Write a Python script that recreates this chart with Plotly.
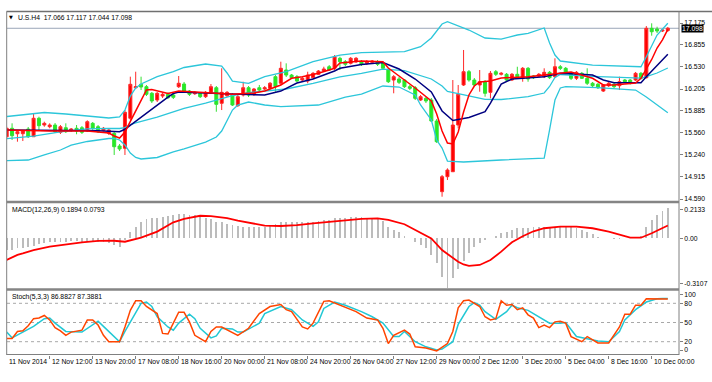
import plotly.graph_objects as go

W, H = 712, 382

# ---------------- data ----------------
bars = list(range(124))

open_ = [15.505,15.629,15.549,15.549,15.618,15.505,15.776,15.677,15.652,15.677,
15.570,15.637,15.599,15.629,15.637,15.589,15.702,15.652,15.599,15.555,
15.555,15.369,15.335,15.776,16.225,16.275,16.240,16.143,16.044,16.103,
16.128,16.118,16.240,16.279,16.176,16.137,16.143,16.093,16.157,16.225,
15.996,16.107,16.118,15.961,16.118,16.225,16.128,16.225,16.206,16.216,
16.387,16.290,16.485,16.411,16.387,16.338,16.323,16.372,16.422,16.470,
16.533,16.510,16.657,16.607,16.583,16.607,16.607,16.583,16.598,16.607,
16.583,16.485,16.338,16.353,16.338,16.240,16.225,16.044,16.069,16.044,
15.736,14.698,14.918,14.991,15.677,16.265,16.460,16.338,16.265,16.313,
16.157,16.460,16.422,16.422,16.338,16.422,16.363,16.510,16.397,16.397,
16.387,16.451,16.387,16.533,16.510,16.436,16.363,16.436,16.363,16.290,
16.275,16.176,16.254,16.275,16.254,16.338,16.338,16.338,16.436,16.372,
17.097,17.087,17.058,17.066]

high = [15.652,15.702,15.604,15.604,15.648,15.849,15.799,15.726,15.702,15.706,
15.677,15.702,15.633,15.677,15.662,15.746,15.721,15.677,15.648,15.626,
15.579,15.398,15.897,16.387,16.460,16.387,16.265,16.162,16.162,16.147,
16.154,16.147,16.397,16.309,16.191,16.176,16.162,16.176,16.279,16.250,
16.510,16.176,16.147,16.118,16.313,16.250,16.221,16.265,16.250,16.309,
16.411,16.607,16.583,16.426,16.411,16.382,16.460,16.456,16.485,16.533,
16.558,16.705,16.680,16.632,16.676,16.676,16.632,16.632,16.632,16.632,
16.602,16.514,16.411,16.382,16.353,16.265,16.250,16.118,16.088,16.074,
15.765,14.943,15.041,16.338,16.265,16.779,16.485,16.367,16.485,16.338,
16.470,16.485,16.456,16.441,16.441,16.533,16.529,16.529,16.411,16.441,
16.510,16.470,16.657,16.558,16.529,16.456,16.470,16.456,16.510,16.309,
16.294,16.279,16.309,16.294,16.387,16.353,16.353,16.456,16.456,17.131,
17.171,17.121,17.087,17.117]

low = [15.482,15.457,15.432,15.442,15.486,15.501,15.604,15.652,15.629,15.560,
15.545,15.560,15.574,15.541,15.545,15.574,15.604,15.560,15.582,15.530,
15.237,15.295,15.237,15.751,16.206,16.191,16.103,16.000,16.015,16.074,
16.059,16.059,16.221,16.162,16.103,16.118,16.074,16.074,16.132,15.872,
15.897,16.088,15.956,15.942,16.096,16.088,16.103,16.176,16.191,16.199,
16.166,16.265,16.382,16.353,16.309,16.323,16.290,16.353,16.411,16.456,
16.470,16.485,16.485,16.544,16.566,16.588,16.544,16.558,16.573,16.544,
16.485,16.294,16.143,16.279,16.221,16.191,16.044,16.030,16.000,15.721,
15.413,14.624,14.869,14.987,15.629,16.250,16.313,16.250,16.166,16.093,
16.069,16.397,16.404,16.313,16.323,16.363,16.313,16.313,16.353,16.382,
16.367,16.353,16.367,16.485,16.411,16.338,16.338,16.353,16.265,16.235,
16.206,16.162,16.235,16.221,16.191,16.294,16.272,16.323,16.345,16.360,
16.989,17.028,17.043,17.044]

close = [15.629,15.520,15.579,15.589,15.505,15.776,15.667,15.702,15.677,15.579,
15.652,15.579,15.618,15.589,15.570,15.726,15.629,15.579,15.629,15.604,
15.358,15.325,15.864,16.275,16.240,16.235,16.128,16.030,16.143,16.128,
16.078,16.084,16.290,16.176,16.128,16.157,16.093,16.157,16.240,15.981,
16.157,16.157,15.971,16.093,16.225,16.118,16.206,16.191,16.225,16.290,
16.240,16.510,16.411,16.372,16.323,16.363,16.411,16.436,16.470,16.500,
16.485,16.680,16.607,16.569,16.657,16.657,16.569,16.607,16.617,16.569,
16.510,16.313,16.387,16.304,16.240,16.216,16.069,16.093,16.030,15.736,
15.432,14.918,15.016,15.677,16.128,16.460,16.338,16.265,16.313,16.143,
16.436,16.422,16.436,16.338,16.422,16.387,16.510,16.353,16.372,16.422,
16.451,16.372,16.533,16.510,16.436,16.363,16.451,16.363,16.290,16.254,
16.225,16.265,16.290,16.240,16.313,16.313,16.290,16.436,16.363,17.097,
17.047,17.058,17.072,17.098]

# Bollinger bands (sampled at bars)
bb_up_bars = [0,5,7,11,15,19,21,22,23,24,25,28,31,33,37,40,41,42,45,48,52,57,62,66,74,77,79,81,82,84,86,89,92,95,97,100,101,102,103,109,118,119,121,123]
bb_up = [15.802,15.839,15.861,15.839,15.809,15.780,15.795,15.897,16.103,16.221,16.279,16.387,16.460,16.522,16.573,16.544,16.441,16.323,16.290,16.389,16.460,16.607,16.705,16.739,16.754,16.827,16.955,17.161,17.194,17.138,17.072,16.955,16.940,16.999,17.024,17.102,16.881,16.705,16.617,16.558,16.533,16.680,16.999,17.171]

bb_mid_bars = [0,5,10,15,19,21,22,23,24,25,28,31,33,37,40,41,42,45,48,52,57,62,66,70,74,77,79,81,82,84,86,89,92,95,97,100,101,102,103,109,118,119,121,123]
bb_mid = [15.477,15.513,15.577,15.621,15.629,15.626,15.640,15.684,15.709,15.729,15.793,15.870,15.922,16.000,16.066,16.088,16.110,16.151,16.179,16.206,16.288,16.385,16.435,16.498,16.475,16.398,16.353,16.250,16.171,16.138,16.105,16.053,16.052,16.081,16.093,16.147,16.243,16.375,16.419,16.392,16.367,16.389,16.441,16.514]

bb_lo_bars = [0,4,7,10,12,15,19,20,21,22,23,24,25,28,31,33,37,39,40,41,42,43,45,48,51,58,63,66,70,73,76,77,79,80,81,82,85,92,100,101,102,103,104,110,117,119,123]
bb_lo = [15.153,15.163,15.237,15.310,15.383,15.435,15.479,15.482,15.457,15.383,15.266,15.200,15.178,15.200,15.281,15.325,15.427,15.501,15.589,15.736,15.897,15.971,16.015,15.971,15.946,15.971,16.088,16.132,16.250,16.235,16.118,15.971,15.751,15.457,15.339,15.148,15.134,15.163,15.192,15.604,16.044,16.221,16.240,16.225,16.191,16.088,15.858]

# fast moving average (red)
ma_fast_bars = [0,8,15,19,20,21,22,26,27,30,32,36,39,42,46,48,51,53,55,58,61,62,66,70,71,74,76,79,80,81,82,83,84,85,86,87,88,90,92,97,103,105,109,111,113,117,118,119,120,121,122,123]
ma_fast = [15.604,15.589,15.589,15.560,15.516,15.486,15.575,16.191,16.199,16.140,16.176,16.162,16.143,16.128,16.147,16.176,16.265,16.363,16.387,16.436,16.510,16.588,16.617,16.607,16.514,16.338,16.221,16.030,15.839,15.589,15.413,15.398,15.574,15.868,16.118,16.250,16.309,16.323,16.367,16.387,16.445,16.456,16.363,16.265,16.265,16.294,16.363,16.504,16.640,16.808,16.928,17.083]

# slow moving average (navy)
ma_slow_bars = [0,5,11,17,21,22,30,31,32,36,42,48,51,54,57,61,62,66,70,73,76,79,81,83,86,89,90,92,94,100,103,106,109,111,113,118,119,123]
ma_slow = [15.604,15.604,15.593,15.593,15.579,15.614,16.088,16.140,16.162,16.154,16.132,16.118,16.176,16.294,16.353,16.470,16.510,16.566,16.595,16.500,16.353,16.162,15.883,15.743,15.787,15.872,16.000,16.279,16.353,16.387,16.436,16.426,16.411,16.338,16.298,16.298,16.387,16.716]

# MACD(12,26,9)
macd_hist = [-0.074,-0.074,-0.063,-0.059,-0.053,-0.046,-0.038,-0.032,-0.026,-0.024,
-0.022,-0.021,-0.020,-0.020,-0.021,-0.018,-0.020,-0.022,-0.024,-0.030,
-0.042,-0.053,-0.011,0.037,0.072,0.103,0.120,0.124,0.128,0.132,
0.138,0.145,0.153,0.153,0.147,0.142,0.132,0.128,0.120,0.103,
0.099,0.087,0.080,0.074,0.072,0.072,0.072,0.072,0.072,0.078,
0.086,0.099,0.103,0.103,0.103,0.099,0.099,0.103,0.107,0.111,
0.116,0.124,0.124,0.128,0.132,0.132,0.132,0.128,0.128,0.120,
0.107,0.070,0.051,0.037,0.016,0.003,-0.022,-0.042,-0.063,-0.105,
-0.156,-0.240,-0.310,-0.250,-0.190,-0.140,-0.094,-0.055,-0.030,-0.012,
0.003,0.013,0.031,0.041,0.051,0.062,0.066,0.066,0.068,0.068,
0.068,0.068,0.072,0.072,0.072,0.068,0.066,0.051,0.041,0.024,
0.010,0.004,0.001,-0.002,-0.003,0.002,0.004,0.006,0.012,0.072,
0.114,0.145,0.170,0.1894]

macd_sig_bars = [0,2,3,5,8,11,14,17,20,22,25,28,31,33,34,36,38,41,43,45,48,51,54,57,60,63,66,69,71,74,76,79,81,84,85,86,88,90,92,94,96,98,100,103,106,109,112,114,116,118,120,123]
macd_sig = [-0.136,-0.104,-0.095,-0.074,-0.053,-0.038,-0.026,-0.017,-0.016,-0.022,0.003,0.041,0.099,0.120,0.128,0.140,0.138,0.125,0.110,0.097,0.078,0.076,0.082,0.093,0.103,0.114,0.120,0.124,0.114,0.087,0.051,-0.001,-0.074,-0.147,-0.164,-0.173,-0.167,-0.136,-0.084,-0.025,0.012,0.043,0.062,0.072,0.072,0.062,0.041,0.020,0.003,0.003,0.031,0.0793]

# Stochastic(5,3,3)
stoch_main_bars = [0,1,2,3,4,5,6,7,8,9,10,11,12,13,14,15,16,17,18,19,21,22,23,24,25,26,28,29,30,31,32,33,34,35,37,38,39,40,42,43,45,47,49,51,52,53,55,56,57,59,60,62,65,67,69,70,71,72,74,75,76,78,80,82,83,84,85,86,87,88,89,90,91,92,93,94,95,96,97,98,99,100,101,102,103,104,105,106,107,108,109,110,112,113,114,115,116,117,118,119,120,121,122,123]
stoch_main = [25,25,36,37,45,56,57,61,54,42,37,30,35,37,38,54,54,46,30,20,20,43,69,84,84,75,64,33,32,49,66,66,51,30,20,36,43,43,34,30,41,64,75,78,70,67,43,40,49,83,84,77,67,57,54,41,17,30,38,32,12,10,5.5,17,36,73,84,85,80,75,59,54,56,84,77,78,70,73,62,57,42,46,42,51,52,49,28,24,20,28,23,18,18,30,43,63,63,77,77,87,87,87,87,86.88]

stoch_sig_bars = [0,1,3,5,7,8,9,11,14,16,17,18,20,21,22,24,25,26,27,28,30,31,32,34,35,36,38,39,40,42,43,44,47,48,51,53,55,57,58,59,61,63,66,68,70,72,73,74,76,78,80,81,83,84,86,87,88,89,91,93,94,95,97,98,100,101,103,104,106,108,110,112,114,115,117,119,121,122,123]
stoch_sig = [35,26,35,44,56,57,49,36,35,46,52,44,28,20,36,64,80,82,75,59,43,38,49,63,56,41,26,29,41,40,35,35,49,64,75,70,54,44,51,72,82,77,67,59,49,28,28,36,20,12,7,8.6,20,47,75,81,77,67,55,67,77,73,69,64,54,49,49,50,28,24,21,20,36,54,70,82,87,87.4,87.39]
stoch_levels = [20, 50, 80]

price_ticks = [17.175, 16.855, 16.530, 16.205, 15.885, 15.560, 15.240, 14.915, 14.590]
price_tick_text = ["17.175", "16.855", "16.530", "16.205", "15.885", "15.560", "15.240", "14.915", "14.590"]
last_price = 17.098

time_label_bars = [0, 8, 16, 24, 32, 40, 48, 56, 64, 72, 80, 88, 96, 104, 112, 120]
time_labels = ["11 Nov 2014", "12 Nov 12:00", "13 Nov 20:00", "17 Nov 08:00", "18 Nov 16:00",
               "20 Nov 00:00", "21 Nov 08:00", "24 Nov 20:00", "26 Nov 04:00", "27 Nov 12:00",
               "29 Nov 00:00", "2 Dec 12:00", "3 Dec 20:00", "5 Dec 04:00", "8 Dec 16:00",
               "10 Dec 00:00"]

title_main = "U.S.H4  17.066 17.117 17.044 17.098"
title_macd = "MACD(12,26,9) 0.1894 0.0793"
title_stoch = "Stoch(5,3,3) 86.8827 87.3881"

# ---------------- styling / layout ----------------
FONT = "Liberation Sans, Arial, sans-serif"
FS = 6.8
BB_C = "#2cc6da"
FRAME = "#808080"


def px(x):
    return x / W


def py(y):
    return 1 - y / H


XD = [px(7), px(679)]
XR = [0.056, 125.08]

fig = go.Figure()

fig.add_trace(go.Candlestick(
    x=bars, open=open_, high=high, low=low, close=close,
    increasing=dict(line=dict(color="#ff2a2a", width=1), fillcolor="#ff0000"),
    decreasing=dict(line=dict(color="#33e033", width=1), fillcolor="#22ee22"),
    whiskerwidth=0, xaxis="x", yaxis="y", hoverinfo="skip"))

for xs, ys in [(bb_up_bars, bb_up), (bb_mid_bars, bb_mid), (bb_lo_bars, bb_lo)]:
    fig.add_trace(go.Scatter(x=xs, y=ys, mode="lines", line=dict(color=BB_C, width=1.3),
                             xaxis="x", yaxis="y", hoverinfo="skip"))
fig.add_trace(go.Scatter(x=ma_slow_bars, y=ma_slow, mode="lines", line=dict(color="#000080", width=1.5),
                         xaxis="x", yaxis="y", hoverinfo="skip"))
fig.add_trace(go.Scatter(x=ma_fast_bars, y=ma_fast, mode="lines", line=dict(color="#ff0000", width=1.5),
                         xaxis="x", yaxis="y", hoverinfo="skip"))

fig.add_trace(go.Bar(x=bars, y=macd_hist, width=0.35, marker=dict(color="#bcbcbc", line=dict(width=0)),
                     xaxis="x2", yaxis="y2", hoverinfo="skip"))
fig.add_trace(go.Scatter(x=macd_sig_bars, y=macd_sig, mode="lines", line=dict(color="#ff0000", width=1.8),
                         xaxis="x2", yaxis="y2", hoverinfo="skip"))

fig.add_trace(go.Scatter(x=stoch_sig_bars, y=stoch_sig, mode="lines", line=dict(color="#22c8d4", width=1.5),
                         xaxis="x3", yaxis="y3", hoverinfo="skip"))
fig.add_trace(go.Scatter(x=stoch_main_bars, y=stoch_main, mode="lines", line=dict(color="#ff4500", width=1.5),
                         xaxis="x3", yaxis="y3", hoverinfo="skip"))

axis_common = dict(showgrid=False, zeroline=False, showline=False, fixedrange=True)
yfont = dict(family=FONT, size=FS, color="black")

shapes = []
shapes.append(dict(type="line", xref="paper", yref="y", x0=XD[0], x1=XD[1], y0=last_price, y1=last_price,
                   line=dict(color="#9aa6b8", width=1), layer="below"))
for lv in stoch_levels:
    shapes.append(dict(type="line", xref="paper", yref="y3", x0=XD[0], x1=XD[1], y0=lv, y1=lv,
                       line=dict(color="#a8a8a8", width=1, dash="dot"), layer="below"))
shapes += [
    dict(type="line", xref="paper", yref="paper", x0=px(6.5), x1=1, y0=py(11.5), y1=py(11.5),
         line=dict(color="#707070", width=1.6)),
    dict(type="line", xref="paper", yref="paper", x0=px(6.7), x1=px(6.7), y0=py(11.5), y1=py(355),
         line=dict(color=FRAME, width=1)),
    dict(type="line", xref="paper", yref="paper", x0=px(679), x1=px(679), y0=py(11.5), y1=py(355),
         line=dict(color=FRAME, width=1)),
    dict(type="rect", xref="paper", yref="paper", x0=px(6.7), x1=px(679), y0=py(203.3), y1=py(200.8),
         fillcolor="#858585", line=dict(width=0)),
    dict(type="rect", xref="paper", yref="paper", x0=px(6.7), x1=px(679), y0=py(290.8), y1=py(288.3),
         fillcolor="#858585", line=dict(width=0)),
    dict(type="line", xref="paper", yref="paper", x0=px(6.7), x1=px(679), y0=py(354.5), y1=py(354.5),
         line=dict(color=FRAME, width=1)),
]

annotations = []
annotations.append(dict(x=px(10.5), y=py(17.5), xref="paper", yref="paper", text="▼", showarrow=False,
                        xanchor="center", yanchor="middle", font=dict(family="DejaVu Sans", size=5, color="black")))
annotations.append(dict(x=px(15.5), y=py(17.5), xref="paper", yref="paper", text=title_main, showarrow=False,
                        xanchor="left", yanchor="middle", font=dict(family=FONT, size=FS, color="black")))
annotations.append(dict(x=px(9.5), y=py(209.5), xref="paper", yref="paper", text=title_macd, showarrow=False,
                        xanchor="left", yanchor="middle", font=dict(family=FONT, size=FS, color="black")))
annotations.append(dict(x=px(9.5), y=py(297), xref="paper", yref="paper", text=title_stoch, showarrow=False,
                        xanchor="left", yanchor="middle", font=dict(family=FONT, size=FS, color="black")))
annotations.append(dict(x=px(680.5), y=last_price, xref="paper", yref="y", text="17.098", showarrow=False,
                        xanchor="left", yanchor="middle", bgcolor="black", borderpad=0,
                        font=dict(family=FONT, size=FS, color="white")))
for b, t in zip(time_label_bars, time_labels):
    annotations.append(dict(x=max(b, XR[0] + 0.01), y=py(361), xref="x3", yref="paper", text=t,
                            showarrow=False, xanchor="left", yanchor="middle",
                            font=dict(family=FONT, size=FS, color="black")))

fig.update_layout(
    width=W, height=H, margin=dict(l=0, r=0, t=0, b=0, autoexpand=False),
    paper_bgcolor="white", plot_bgcolor="white", showlegend=False,
    boxgap=0.2, bargap=0,
    font=dict(family=FONT, size=FS, color="black"),
    xaxis=dict(domain=XD, range=XR, anchor="y", showticklabels=False, ticks="",
               rangeslider=dict(visible=False), **axis_common),
    xaxis2=dict(domain=XD, range=XR, anchor="y2", matches="x", showticklabels=False, ticks="", **axis_common),
    xaxis3=dict(domain=XD, range=XR, anchor="y3", matches="x", showticklabels=False,
                tickvals=time_label_bars, ticks="outside", ticklen=3, tickcolor=FRAME, **axis_common),
    yaxis=dict(domain=[py(201), py(12)], range=[14.561, 17.337], side="right", anchor="x",
               tickvals=price_ticks, ticktext=price_tick_text, ticks="outside", ticklen=3,
               tickcolor=FRAME, tickfont=yfont, **axis_common),
    yaxis2=dict(domain=[py(288), py(204)], range=[-0.3107, 0.2133], side="right", anchor="x2",
                tickvals=[0.176, 0.0, -0.2857], ticktext=["0.2133", "0.00", "-0.3107"], ticks="outside",
                ticklen=3, tickcolor=FRAME, tickfont=yfont, **axis_common),
    yaxis3=dict(domain=[py(354.5), py(290.5)], range=[0, 100], side="right", anchor="x3",
                tickvals=[93, 80, 50, 20, 7], ticktext=["100", "80", "50", "20", "0"], ticks="outside",
                ticklen=3, tickcolor=FRAME, tickfont=yfont, **axis_common),
    shapes=shapes, annotations=annotations,
)

fig.write_html(
    "out.html",
    config={"displayModeBar": False, "staticPlot": True},
    post_script="document.body.style.margin='0px';document.body.style.padding='0px';"
                "document.body.style.overflow='hidden';",
)
